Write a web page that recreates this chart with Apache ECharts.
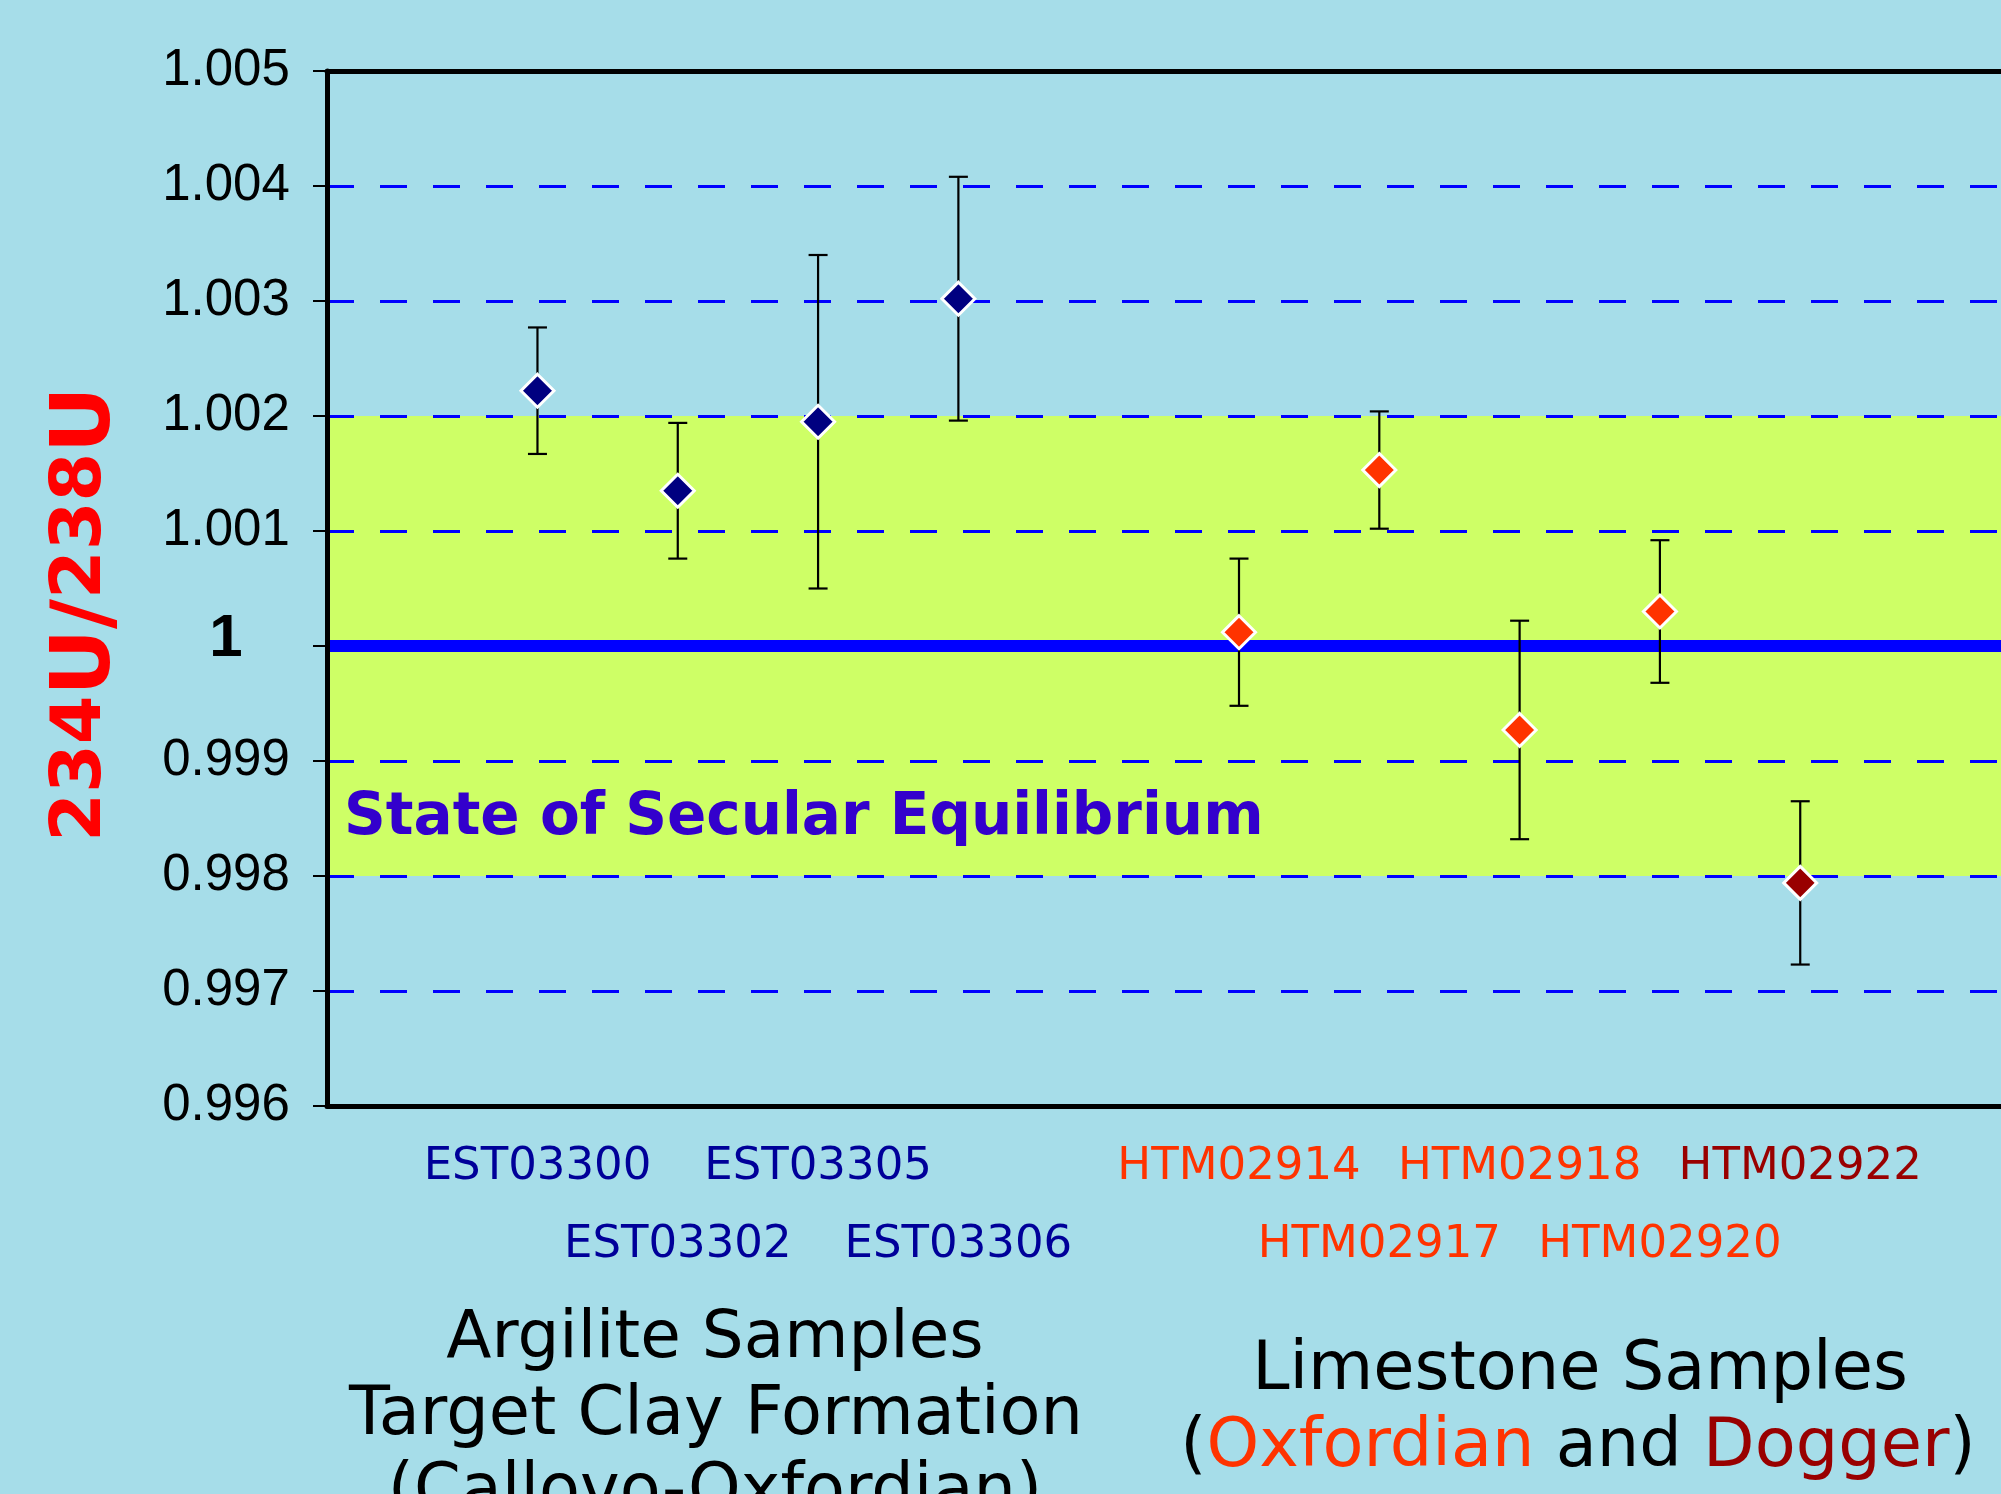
<!DOCTYPE html>
<html>
<head>
<meta charset="utf-8">
<script src="https://cdn.jsdelivr.net/npm/echarts@6/dist/echarts.min.js"></script>
<style>
  html, body { margin: 0; padding: 0; background: #A6DDE9; }
  #chart { width: 2001px; height: 1494px; }
</style>
</head>
<body>
<div id="chart"></div>
<script>
// ---- data ----
const samples   = ['EST03300', 'EST03302', 'EST03305', 'EST03306', 'HTM02914', 'HTM02917', 'HTM02918', 'HTM02920', 'HTM02922'];
const ratio     = [1.00222, 1.00135, 1.00195, 1.00302, 1.00012, 1.00153, 0.99927, 1.00030, 0.99794];
const errorBar  = [0.00055, 0.00059, 0.00145, 0.00106, 0.00064, 0.00051, 0.00095, 0.00062, 0.00071];
const formation = ['Argilite', 'Argilite', 'Argilite', 'Argilite', 'Oxfordian', 'Oxfordian', 'Oxfordian', 'Oxfordian', 'Dogger'];
const xCategories = ['', 'EST03300', 'EST03302', 'EST03305', 'EST03306', '', 'HTM02914', 'HTM02917', 'HTM02918', 'HTM02920', 'HTM02922', '', ''];
const equilibriumLow = 0.998;
const equilibriumHigh = 1.002;
const equilibriumValue = 1;

// ---- styles ----
const formationColor = { Argilite: '#000080', Oxfordian: '#FF3300', Dogger: '#990000' };
const formationLabelColor = { Argilite: '#000099', Oxfordian: '#FF3300', Dogger: '#990000' };
const BG = '#A6DDE9';

const chart = echarts.init(document.getElementById('chart'), null, { renderer: 'canvas' });

const labelRich = { gap: { fontSize: 10, lineHeight: 78 } };
Object.keys(formationLabelColor).forEach(function (k) {
  labelRich[k] = { color: formationLabelColor[k], fontSize: 45, lineHeight: 44, fontFamily: 'DejaVu Sans' };
});

const scatterData = samples.map(function (s, i) {
  return { value: [s, ratio[i]], itemStyle: { color: formationColor[formation[i]] } };
});
const errData = samples.map(function (s, i) {
  return [xCategories.indexOf(s), ratio[i] - errorBar[i], ratio[i] + errorBar[i]];
});

const option = {
  backgroundColor: BG,
  animation: false,
  grid: {
    left: 327, top: 71, width: 1824, height: 1035,
    outerBoundsMode: 'none',
    containLabel: false,
    show: false
  },
  xAxis: [
    {
      type: 'category',
      data: xCategories,
      boundaryGap: true,
      z: 10,
      axisLine: { show: true, lineStyle: { color: '#000', width: 5 } },
      axisTick: { show: false },
      splitLine: { show: false },
      axisLabel: {
        interval: 0,
        margin: 39,
        formatter: function (value) {
          if (!value) return '';
          const i = samples.indexOf(value);
          const key = formation[i];
          return (i % 2 === 1 ? '{gap| }\n' : '') + '{' + key + '|' + value + '}';
        },
        rich: labelRich
      }
    },
    {
      type: 'category',
      position: 'top',
      data: xCategories,
      z: 10,
      axisLine: { show: true, lineStyle: { color: '#000', width: 5 } },
      axisTick: { show: false },
      axisLabel: { show: false },
      splitLine: { show: false }
    }
  ],
  yAxis: {
    type: 'value',
    min: 0.996,
    max: 1.005,
    interval: 0.001,
    z: 10,
    axisLine: { show: true, lineStyle: { color: '#000', width: 5 } },
    axisTick: { show: true, inside: false, length: 14, lineStyle: { color: '#000', width: 2 } },
    splitLine: { show: true, showMaxLine: false, showMinLine: false, lineStyle: { color: '#0000FF', width: 3, type: [27, 26] } },
    axisLabel: {
      margin: 101,
      align: 'center',
      color: '#000',
      fontSize: 51,
      fontFamily: 'Liberation Sans',
      formatter: function (v) {
        const r = Math.round(v * 1000) / 1000;
        if (r === 1) return '{one|1}';
        return r.toFixed(3);
      },
      rich: {
        one: { fontSize: 60, fontWeight: 'bold', fontFamily: 'Liberation Sans', color: '#000', padding: [0, 0, 14, 0] }
      }
    }
  },
  series: [
    {
      type: 'line',
      z: -1,
      data: [],
      silent: true,
      markArea: {
        silent: true,
        itemStyle: { color: '#CEFF66', opacity: 1 },
        data: [[{ yAxis: equilibriumLow }, { yAxis: equilibriumHigh }]]
      }
    },
    {
      type: 'line',
      z: 15,
      data: [],
      silent: true,
      markLine: {
        silent: true,
        symbol: ['none', 'none'],
        label: { show: false },
        lineStyle: { color: '#0000FF', width: 12, type: 'solid' },
        data: [{ yAxis: equilibriumValue }]
      }
    },
    {
      type: 'custom',
      z: 19,
      data: errData,
      encode: { x: 0, y: [1, 2] },
      renderItem: function (params, api) {
        const x = api.value(0);
        const pLo = api.coord([x, api.value(1)]);
        const pHi = api.coord([x, api.value(2)]);
        const hw = 9.5;
        const st = { stroke: '#000', lineWidth: 2.2 };
        return {
          type: 'group',
          children: [
            { type: 'line', shape: { x1: pLo[0], y1: pLo[1], x2: pHi[0], y2: pHi[1] }, style: st },
            { type: 'line', shape: { x1: pLo[0] - hw, y1: pLo[1], x2: pLo[0] + hw, y2: pLo[1] }, style: st },
            { type: 'line', shape: { x1: pHi[0] - hw, y1: pHi[1], x2: pHi[0] + hw, y2: pHi[1] }, style: st }
          ]
        };
      }
    },
    {
      type: 'scatter',
      z: 20,
      symbol: 'diamond',
      symbolSize: 33,
      itemStyle: { borderColor: '#FFFFFF', borderWidth: 3, opacity: 1 },
      data: scatterData
    }
  ],
  graphic: [
    {
      type: 'text', x: 88, y: 614, rotation: Math.PI / 2,
      style: {
        text: '{d|234}{u|U/}{d|238}{u|U}',
        x: 0, y: 0,
        textAlign: 'center', textVerticalAlign: 'middle',
        rich: {
          d: { fontSize: 70, fontWeight: 'bold', fontFamily: 'DejaVu Sans', fill: '#FF0000', color: '#FF0000', verticalAlign: 'top', lineHeight: 82 },
          u: { fontSize: 82, fontWeight: 'bold', fontFamily: 'DejaVu Sans', fill: '#FF0000', color: '#FF0000', lineHeight: 82 }
        }
      }
    },
    {
      type: 'text', x: 344, y: 819, z: 30,
      style: {
        text: 'State of Secular Equilibrium',
        fontSize: 58, fontWeight: 'bold', fontFamily: 'DejaVu Sans',
        fill: '#3300CC', textAlign: 'left', textVerticalAlign: 'middle'
      }
    },
    {
      type: 'text', x: 715, y: 1340,
      style: { text: 'Argilite Samples', fontSize: 66, fontFamily: 'DejaVu Sans', fill: '#000', textAlign: 'center', textVerticalAlign: 'middle' }
    },
    {
      type: 'text', x: 716, y: 1417,
      style: { text: 'Target Clay Formation', fontSize: 67, fontFamily: 'DejaVu Sans', fill: '#000', textAlign: 'center', textVerticalAlign: 'middle' }
    },
    {
      type: 'text', x: 715, y: 1494,
      style: { text: '(Callovo-Oxfordian)', fontSize: 67, fontFamily: 'DejaVu Sans', fill: '#000', textAlign: 'center', textVerticalAlign: 'middle' }
    },
    {
      type: 'text', x: 1580, y: 1372,
      style: { text: 'Limestone Samples', fontSize: 67, fontFamily: 'DejaVu Sans', fill: '#000', textAlign: 'center', textVerticalAlign: 'middle' }
    },
    {
      type: 'text', x: 1578, y: 1449,
      style: {
        text: '({o|Oxfordian} and {g|Dogger})',
        fontSize: 67, fontFamily: 'DejaVu Sans', fill: '#000',
        textAlign: 'center', textVerticalAlign: 'middle',
        rich: {
          o: { fontSize: 67, fontFamily: 'DejaVu Sans', fill: '#FF3300', color: '#FF3300' },
          g: { fontSize: 67, fontFamily: 'DejaVu Sans', fill: '#990000', color: '#990000' }
        }
      }
    }
  ]
};

chart.setOption(option);
</script>
</body>
</html>
